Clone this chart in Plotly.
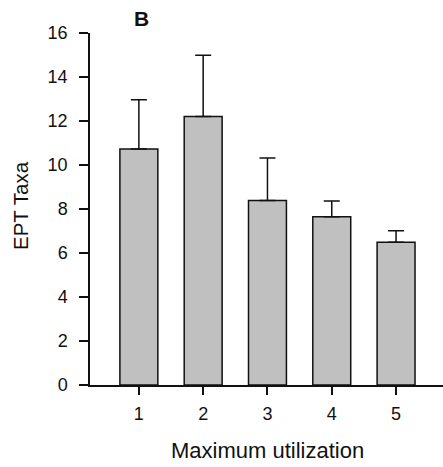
import plotly.graph_objects as go

categories = [1, 2, 3, 4, 5]
means = [10.73, 12.2, 8.39, 7.65, 6.49]
errors = [2.24, 2.79, 1.93, 0.71, 0.52]
y_ticks = [0, 2, 4, 6, 8, 10, 12, 14, 16]

fig = go.Figure()
fig.add_trace(go.Bar(
    x=categories, y=means, width=0.59,
    marker=dict(color="#c0c0c0", line=dict(color="#111111", width=1.5)),
    error_y=dict(type="data", symmetric=False, array=errors,
                 arrayminus=[0] * len(errors),
                 color="#111111", thickness=1.5, width=8),
    showlegend=False,
))

font = "Liberation Sans, Arial, sans-serif"
fig.update_layout(
    width=443, height=467,
    margin=dict(l=90, r=0, t=33, b=82),
    plot_bgcolor="white", paper_bgcolor="white",
    font=dict(family=font, color="#111111"),
    xaxis=dict(range=[0.24, 5.73], tickvals=categories, ticktext=[str(c) for c in categories],
               showline=True, linecolor="#111111", linewidth=1.5,
               ticks="outside", ticklen=8, tickwidth=1.5, tickcolor="#111111",
               tickfont=dict(size=18, family=font), showgrid=False, zeroline=False,
               ticklabelstandoff=4),
    yaxis=dict(range=[0, 16], tickvals=y_ticks,
               showline=True, linecolor="#111111", linewidth=1.5,
               ticks="outside", ticklen=9, tickwidth=1.5, tickcolor="#111111",
               tickfont=dict(size=18, family=font), showgrid=False, zeroline=False,
               ticklabelstandoff=8),
    annotations=[
        dict(text="Maximum utilization", xref="paper", yref="paper",
             x=(267 - 90) / 353, y=(385 - 450) / 352, xanchor="center", yanchor="middle",
             showarrow=False, font=dict(size=22, family=font)),
        dict(text="EPT Taxa", xref="paper", yref="paper", textangle=-90,
             x=(20 - 90) / 353, y=(385 - 206) / 352, xanchor="center", yanchor="middle",
             showarrow=False, font=dict(size=20.5, family=font)),
        dict(text="<b>B</b>", xref="paper", yref="paper",
             x=(141 - 90) / 353, y=(385 - 19) / 352, xanchor="center", yanchor="middle",
             showarrow=False, font=dict(size=21, family=font)),
    ],
)

fig.write_html("out.html")
